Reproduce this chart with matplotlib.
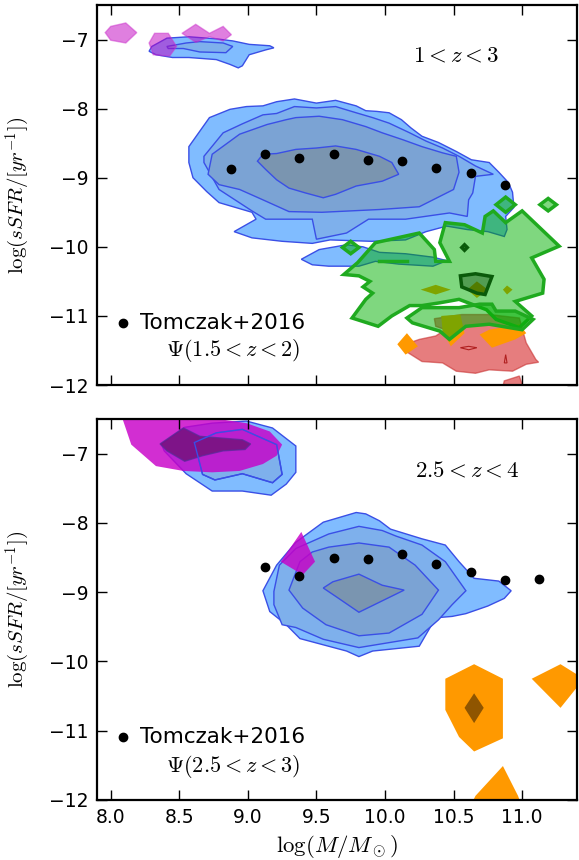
import matplotlib
matplotlib.use("Agg")
import matplotlib.pyplot as plt

plt.rcParams['mathtext.fontset'] = 'cm'
plt.rcParams['font.family'] = ['DejaVu Sans']

# Tomczak+2016 points
tom_x_top = [8.875, 9.125, 9.375, 9.625, 9.875, 10.125, 10.375, 10.625, 10.875]
tom_y_top = [-8.87, -8.66, -8.72, -8.65, -8.75, -8.76, -8.86, -8.93, -9.11]
tom_x_bot = [9.125, 9.375, 9.625, 9.875, 10.125, 10.375, 10.625, 10.875, 11.125]
tom_y_bot = [-8.63, -8.77, -8.50, -8.52, -8.45, -8.60, -8.71, -8.83, -8.81]

# ---- top panel contours (vertices in data units) ----
blue_top_l1 = [(8.57, -8.78), (8.57, -8.55), (8.72, -8.13), (8.87, -8.01), (8.99, -7.97), (9.11, -7.96),
               (9.21, -7.90), (9.34, -7.86), (9.50, -7.92), (9.64, -7.88), (9.79, -7.96), (9.86, -8.03),
               (9.94, -8.04), (10.03, -8.06), (10.12, -8.16), (10.19, -8.28), (10.27, -8.40), (10.39, -8.49),
               (10.52, -8.62), (10.63, -8.74), (10.76, -8.78), (10.83, -8.92), (10.90, -9.07), (10.93, -9.21),
               (10.94, -9.43), (10.88, -9.56), (10.89, -9.75), (10.87, -9.85), (10.75, -9.78), (10.60, -9.75),
               (10.45, -9.70), (10.30, -9.78), (10.15, -9.90), (9.90, -9.92), (9.60, -9.90), (9.47, -9.95),
               (9.25, -9.92), (9.03, -9.87), (8.90, -9.78), (9.06, -9.60), (9.03, -9.50), (8.79, -9.36),
               (8.70, -9.20), (8.60, -9.00)]
blue_top_tail = [(9.39, -10.18), (9.52, -10.04), (9.72, -9.97), (9.84, -10.00), (9.96, -10.08), (10.15, -10.10),
                 (10.35, -10.15), (10.45, -10.20), (10.35, -10.28), (10.10, -10.25), (9.93, -10.21),
                 (9.81, -10.28), (9.59, -10.28), (9.47, -10.26)]
blue_top_l2 = [(8.68, -8.78), (8.68, -8.69), (8.82, -8.35), (8.96, -8.22), (9.11, -8.09), (9.21, -8.07),
               (9.34, -7.97), (9.50, -7.99), (9.64, -7.97), (9.79, -8.06), (9.91, -8.13), (10.03, -8.21),
               (10.18, -8.35), (10.30, -8.47), (10.42, -8.57), (10.54, -8.69), (10.66, -8.83), (10.79, -8.95),
               (10.66, -8.98), (10.64, -9.22), (10.61, -9.32), (10.60, -9.56), (10.47, -9.51), (10.15, -9.60),
               (9.88, -9.60), (9.72, -9.80), (9.50, -9.89), (9.47, -9.60), (9.13, -9.60), (9.03, -9.48),
               (8.79, -9.17)]
blue_top_l3 = [(8.71, -8.95), (8.74, -8.66), (8.94, -8.37), (9.14, -8.23), (9.28, -8.16), (9.35, -8.13),
               (9.52, -8.11), (9.69, -8.16), (9.86, -8.26), (9.98, -8.35), (10.13, -8.45), (10.27, -8.55),
               (10.42, -8.64), (10.52, -8.69), (10.54, -8.92), (10.50, -9.17), (10.25, -9.42), (9.96, -9.46),
               (9.54, -9.50), (9.30, -9.49), (9.11, -9.32), (8.94, -9.17), (8.79, -9.10)]
blue_top_l4 = [(9.07, -8.76), (9.11, -8.66), (9.21, -8.65), (9.35, -8.59), (9.50, -8.57), (9.64, -8.54),
               (9.79, -8.59), (9.96, -8.69), (10.05, -8.78), (10.10, -8.95), (9.98, -9.05), (9.79, -9.12),
               (9.64, -9.24), (9.55, -9.29), (9.42, -9.22), (9.30, -9.15), (9.21, -9.03), (9.13, -8.88)]
blue_top_ul1 = [(8.30, -7.10), (8.41, -6.98), (8.57, -6.96), (8.77, -6.99), (8.89, -7.02), (9.01, -7.07),
                (9.16, -7.09), (9.19, -7.12), (9.13, -7.15), (9.01, -7.22), (8.96, -7.38), (8.93, -7.41),
                (8.87, -7.36), (8.77, -7.29), (8.57, -7.26), (8.45, -7.26), (8.33, -7.22), (8.28, -7.17)]
blue_top_ul2 = [(8.41, -7.10), (8.55, -7.05), (8.65, -7.03), (8.82, -7.05), (8.89, -7.10), (8.84, -7.19),
                (8.65, -7.18), (8.53, -7.13), (8.42, -7.13)]
magenta_top = [
    [(7.96, -6.90), (8.00, -6.81), (8.11, -6.76), (8.19, -6.90), (8.11, -7.05), (8.00, -7.01)],
    [(8.28, -7.05), (8.32, -6.91), (8.42, -6.91), (8.48, -7.10), (8.43, -7.24), (8.31, -7.22)],
    [(8.52, -6.91), (8.62, -6.78), (8.72, -6.91), (8.82, -6.81), (8.88, -6.93), (8.82, -7.02),
     (8.72, -6.96), (8.62, -7.04)],
]
red_top = [(10.36, -11.04), (10.56, -10.98), (10.76, -10.98), (10.98, -11.03), (11.01, -11.25), (11.03, -11.39),
           (11.10, -11.63), (11.12, -11.67), (11.03, -11.70), (10.93, -11.80), (10.76, -11.78), (10.66, -11.83),
           (10.52, -11.80), (10.42, -11.68), (10.27, -11.66), (10.15, -11.51), (10.15, -11.41), (10.25, -11.34),
           (10.37, -11.29), (10.44, -11.20), (10.37, -11.15)]
red_top_small = [(10.87, -11.94), (10.98, -11.87), (11.00, -11.99), (11.02, -12.10), (10.85, -12.10)]
red_top_lines = [
    [(10.55, -11.46), (10.61, -11.44), (10.67, -11.46), (10.61, -11.49)],
    [(10.87, -11.68), (10.88, -11.56), (10.89, -11.68)],
]
orange_top = [
    [(10.09, -11.41), (10.16, -11.25), (10.24, -11.44), (10.15, -11.56)],
    [(10.69, -11.27), (10.76, -11.20), (10.98, -11.12), (11.03, -11.25), (10.95, -11.34), (10.78, -11.46)],
    [(10.41, -11.00), (10.55, -10.98), (10.58, -11.25), (10.48, -11.44), (10.42, -11.22)],
    [(10.26, -10.62), (10.37, -10.55), (10.48, -10.62), (10.37, -10.69)],
    [(10.60, -10.62), (10.67, -10.50), (10.75, -10.62), (10.67, -10.74)],
    [(10.86, -10.62), (10.89, -10.56), (10.93, -10.62), (10.89, -10.69)],
]
green_main = [(9.70, -10.40), (9.80, -10.23), (9.93, -9.94), (10.25, -9.80), (10.36, -10.04), (10.37, -10.21),
              (10.47, -10.21), (10.40, -9.94), (10.44, -9.65), (10.58, -9.68), (10.71, -9.80), (10.73, -9.56),
              (10.79, -9.48), (10.88, -9.65), (11.00, -9.48), (11.27, -9.99), (11.07, -10.16), (11.16, -10.47),
              (11.15, -10.67), (10.95, -10.79), (11.07, -11.00), (10.98, -11.17), (10.81, -11.05),
              (10.74, -10.91), (10.54, -10.76), (10.40, -10.81), (10.27, -10.85), (10.18, -10.85),
              (10.05, -11.00), (9.95, -11.15), (9.76, -11.03), (9.86, -10.76), (9.91, -10.67), (9.84, -10.58),
              (9.89, -10.50), (9.81, -10.42)]
green_lower = [(10.16, -11.03), (10.27, -10.88), (10.54, -10.88), (10.69, -10.83), (10.78, -10.83),
               (10.81, -10.93), (10.95, -10.93), (11.08, -11.05), (11.00, -11.20), (10.76, -11.12),
               (10.59, -11.15), (10.47, -11.34), (10.40, -11.22), (10.20, -11.10)]
green_diamonds = [
    [(10.81, -9.39), (10.88, -9.28), (10.95, -9.39), (10.88, -9.50)],
    [(11.13, -9.39), (11.19, -9.30), (11.25, -9.39), (11.19, -9.48)],
    [(9.69, -10.01), (9.75, -9.92), (9.81, -10.01), (9.75, -10.10)],
]
green_segment = [(9.96, -10.21), (10.16, -10.21)]
green_dark = [(10.55, -10.42), (10.66, -10.39), (10.78, -10.43), (10.73, -10.69), (10.67, -10.67), (10.56, -10.58)]
green_dark_ring = [(10.56, -10.01), (10.58, -9.97), (10.60, -10.01), (10.58, -10.05)]

# ---- bottom panel contours ----
magenta_bot = [(8.05, -6.30), (8.09, -6.52), (8.15, -6.87), (8.33, -7.18), (8.53, -7.25), (8.74, -7.27),
               (8.94, -7.25), (9.11, -7.15), (9.21, -7.03), (9.25, -6.87), (9.16, -6.68), (8.99, -6.56),
               (8.82, -6.51), (8.50, -6.30)]
magenta_bot_in = [(8.36, -6.86), (8.53, -6.63), (8.65, -6.75), (8.96, -6.80), (9.02, -6.86), (8.98, -6.94),
                  (8.82, -6.96), (8.67, -7.03), (8.54, -7.11), (8.41, -6.96)]
magenta_bot_small = [(9.24, -8.56), (9.39, -8.13), (9.49, -8.56), (9.40, -8.75)]
blue_bot_ul1 = [(8.74, -6.56), (8.99, -6.53), (9.18, -6.63), (9.35, -6.89), (9.35, -7.27), (9.28, -7.44),
                (9.17, -7.60), (8.96, -7.54), (8.74, -7.54), (8.55, -7.29), (8.39, -6.96), (8.37, -6.86),
                (8.54, -6.62)]
blue_bot_ul2 = [(8.61, -6.84), (8.77, -6.70), (8.96, -6.65), (9.21, -6.87), (9.25, -7.30), (9.18, -7.42),
                (8.96, -7.29), (8.76, -7.38), (8.67, -7.30)]
blue_bot_l1 = [(9.11, -8.98), (9.21, -8.61), (9.35, -8.28), (9.55, -7.99), (9.79, -7.85), (9.86, -7.87),
               (9.96, -7.97), (10.04, -8.09), (10.27, -8.23), (10.44, -8.32), (10.54, -8.56), (10.65, -8.80),
               (10.83, -8.84), (10.92, -8.98), (10.87, -9.09), (10.75, -9.20), (10.59, -9.31), (10.49, -9.35),
               (10.37, -9.37), (10.25, -9.78), (9.91, -9.85), (9.81, -9.93), (9.72, -9.85), (9.38, -9.67),
               (9.28, -9.47), (9.16, -9.28)]
blue_bot_l2 = [(9.19, -8.99), (9.23, -8.61), (9.35, -8.37), (9.59, -8.16), (9.81, -8.05), (9.98, -8.11),
               (10.08, -8.19), (10.27, -8.32), (10.44, -8.56), (10.59, -8.98), (10.49, -9.18), (10.39, -9.40),
               (10.24, -9.66), (9.81, -9.80), (9.55, -9.68), (9.35, -9.51), (9.25, -9.47), (9.19, -9.18)]
blue_bot_l3 = [(9.30, -8.97), (9.38, -8.56), (9.47, -8.42), (9.59, -8.35), (9.81, -8.29), (10.03, -8.35),
               (10.22, -8.61), (10.39, -8.97), (10.27, -9.32), (10.03, -9.59), (9.81, -9.63), (9.57, -9.47),
               (9.40, -9.23)]
blue_bot_l4 = [(9.55, -8.94), (9.62, -8.85), (9.81, -8.74), (9.98, -8.90), (10.14, -8.97), (9.81, -9.29),
               (9.64, -9.06)]
orange_bot = [
    [(10.44, -10.25), (10.65, -10.04), (10.86, -10.25), (10.86, -11.11), (10.65, -11.30), (10.54, -11.09),
     (10.44, -10.70)],
    [(11.07, -10.25), (11.28, -10.04), (11.45, -10.25), (11.28, -10.67)],
    [(10.62, -12.10), (10.66, -11.94), (10.86, -11.51), (10.97, -11.94), (11.00, -12.10)],
]
orange_bot_in = [(10.58, -10.67), (10.65, -10.46), (10.72, -10.67), (10.65, -10.89)]

BLUE_FILLS = ['#80bcff', '#7eb0ec', '#7ba3d4', '#7a95b0']
BLUE_EDGE = '#3a4fe6'


def fill(ax, pts, **kw):
    xs = [p[0] for p in pts]
    ys = [p[1] for p in pts]
    ax.fill(xs, ys, **kw)


def blue_levels(ax, levels):
    for pts, c in zip(levels, BLUE_FILLS):
        fill(ax, pts, facecolor=c, edgecolor=BLUE_EDGE, linewidth=1.0)


def style_axes(ax):
    ax.set_xlim(7.9, 11.4)
    ax.set_ylim(-12, -6.5)
    ax.set_xticks([8.0, 8.5, 9.0, 9.5, 10.0, 10.5, 11.0])
    ax.set_yticks([-12, -11, -10, -9, -8, -7])
    ax.tick_params(direction='in', top=True, right=True, length=7, width=1, labelsize=13.5, pad=6)
    for s in ax.spines.values():
        s.set_linewidth(1.6)
    ax.set_ylabel(r'$\log(sSFR/[yr^{-1}])$', fontsize=15)
    ax.yaxis.set_label_coords(-0.136, 0.5)


def main():
    fig = plt.figure(figsize=(5.79, 8.6), dpi=100)
    ax1 = fig.add_axes([0.1675, 0.5523, 0.829, 0.4419])
    ax2 = fig.add_axes([0.1675, 0.0698, 0.829, 0.443])

    # top panel
    blue_levels(ax1, [blue_top_l1, blue_top_l2, blue_top_l3, blue_top_l4])
    fill(ax1, blue_top_tail, facecolor=BLUE_FILLS[0], edgecolor=BLUE_EDGE, linewidth=1.0)
    blue_levels(ax1, [blue_top_ul1, blue_top_ul2])
    for pts in magenta_top:
        fill(ax1, pts, facecolor='#c000c0', alpha=0.5, edgecolor='#cc33cc', linewidth=1.0)
    fill(ax1, red_top, facecolor='#d62728', alpha=0.6, edgecolor='#c83030', linewidth=1.0)
    fill(ax1, red_top_small, facecolor='#d62728', alpha=0.6, edgecolor='#c83030', linewidth=1.0)
    for pts in red_top_lines:
        fill(ax1, pts, facecolor='none', edgecolor='#b02020', linewidth=0.8)
    for pts in orange_top:
        fill(ax1, pts, facecolor='#ff9900', edgecolor='none')
    for pts in [green_main, green_lower] + green_diamonds:
        fill(ax1, pts, facecolor='#00b000', alpha=0.5, edgecolor='none')
        fill(ax1, pts, facecolor='none', edgecolor='#1faa1f', linewidth=2.5)
    ax1.plot([p[0] for p in green_segment], [p[1] for p in green_segment], color='#1faa1f', lw=2.5)
    fill(ax1, green_dark, facecolor='#003300', alpha=0.35, edgecolor='none')
    fill(ax1, green_dark, facecolor='none', edgecolor='#0a5a0a', linewidth=2.5)
    fill(ax1, green_dark_ring, facecolor='none', edgecolor='#0a5a0a', linewidth=2.5)
    ax1.plot(tom_x_top, tom_y_top, 'o', color='k', ms=6, zorder=5)
    ax1.text(10.52, -7.22, r'$1<z<3$', fontsize=16.5, ha='center', va='center')
    ax1.plot([0.055], [0.162], 'o', color='k', ms=6, transform=ax1.transAxes)
    ax1.text(0.09, 0.162, 'Tomczak+2016', fontsize=15.5, va='center', transform=ax1.transAxes)
    ax1.text(0.283, 0.092, r'$\Psi(1.5<z<2)$', fontsize=16, ha='center', va='center', transform=ax1.transAxes)
    style_axes(ax1)
    ax1.tick_params(labelbottom=False)

    # bottom panel
    blue_levels(ax2, [blue_bot_l1, blue_bot_l2, blue_bot_l3, blue_bot_l4])
    blue_levels(ax2, [blue_bot_ul1, blue_bot_ul2])
    fill(ax2, magenta_bot, facecolor='#c800c8', alpha=0.82, edgecolor='none')
    fill(ax2, magenta_bot_in, facecolor='#6a1070', alpha=0.75, edgecolor='#5a2a9a', linewidth=1.0)
    fill(ax2, magenta_bot_small, facecolor='#c800c8', alpha=0.82, edgecolor='none')
    fill(ax2, blue_bot_ul2, facecolor='none', edgecolor=BLUE_EDGE, linewidth=1.0)
    for pts in orange_bot:
        fill(ax2, pts, facecolor='#ff9900', edgecolor='none')
    fill(ax2, orange_bot_in, facecolor='#8f5500', edgecolor='none')
    ax2.plot(tom_x_bot, tom_y_bot, 'o', color='k', ms=6, zorder=5)
    ax2.text(10.6, -7.23, r'$2.5<z<4$', fontsize=16.5, ha='center', va='center')
    ax2.plot([0.055], [0.166], 'o', color='k', ms=6, transform=ax2.transAxes)
    ax2.text(0.09, 0.166, 'Tomczak+2016', fontsize=15.5, va='center', transform=ax2.transAxes)
    ax2.text(0.283, 0.087, r'$\Psi(2.5<z<3)$', fontsize=16, ha='center', va='center', transform=ax2.transAxes)
    style_axes(ax2)
    ax2.set_xlabel(r'$\log(M/M_\odot)$', fontsize=16.5)

    fig.savefig('out.png', dpi=100)


if __name__ == "__main__":
    main()
